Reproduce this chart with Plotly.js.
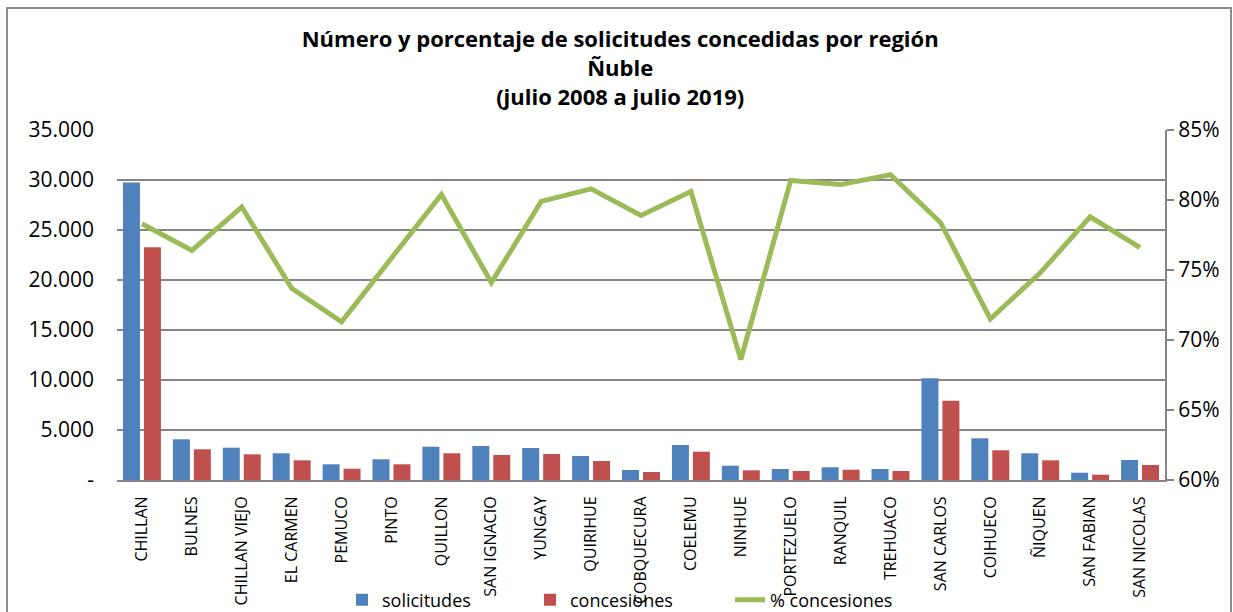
<!DOCTYPE html>
<html>
<head>
<meta charset="utf-8">
<script src="https://cdn.plot.ly/plotly-3.0.1.min.js"></script>
<style>html,body{margin:0;padding:0;background:#fff;}</style>
</head>
<body>
<div id="chart" style="width:1233px;height:612px;"></div>
<script>
const categories = ["CHILLAN","BULNES","CHILLAN VIEJO","EL CARMEN","PEMUCO","PINTO","QUILLON","SAN IGNACIO","YUNGAY","QUIRIHUE","COBQUECURA","COELEMU","NINHUE","PORTEZUELO","RANQUIL","TREHUACO","SAN CARLOS","COIHUECO","ÑIQUEN","SAN FABIAN","SAN NICOLAS"];
const solicitudes = [29750, 4070, 3230, 2670, 1570, 2070, 3330, 3400, 3200, 2400, 1000, 3500, 1430, 1100, 1270, 1100, 10170, 4170, 2670, 730, 2000];
const concesiones = [23270, 3070, 2570, 1970, 1130, 1570, 2670, 2500, 2600, 1900, 800, 2830, 970, 900, 1030, 900, 7930, 2970, 1970, 530, 1500];
const pctConcesiones = [0.783, 0.764, 0.795, 0.737, 0.713, 0.758, 0.804, 0.741, 0.799, 0.808, 0.789, 0.806, 0.686, 0.814, 0.811, 0.818, 0.784, 0.715, 0.748, 0.788, 0.766];
const leftTickVals = [0, 5000, 10000, 15000, 20000, 25000, 30000, 35000];
const leftTickText = ["-", "5.000", "10.000", "15.000", "20.000", "25.000", "30.000", "35.000"];
const titleText = "Número y porcentaje de solicitudes concedidas por región<br>Ñuble<br>(julio 2008 a julio 2019)";

const font = "Open Sans, sans-serif";
const traces = [
  {type: "bar", name: "solicitudes", x: categories, y: solicitudes, marker: {color: "#4f81bd"}, yaxis: "y", legend: "legend"},
  {type: "bar", name: "concesiones", x: categories, y: concesiones, marker: {color: "#c0504d"}, yaxis: "y", legend: "legend2"},
  {type: "scatter", mode: "lines", name: "% concesiones", x: categories, y: pctConcesiones, line: {color: "#9bbb59", width: 5}, yaxis: "y2", legend: "legend3"}
];

const L = 117, R = 1165, T = 130, B = 480, W = 1233, H = 612;
const px = v => (v - L) / (R - L);
const py = v => (B - v) / (B - T);
const legendBase = {orientation: "h", xanchor: "left", y: py(600), yanchor: "middle", bgcolor: "rgba(0,0,0,0)", font: {family: font, size: 18, color: "#000"}};

const layout = {
  width: W, height: H,
  margin: {l: L, r: W - R, t: T, b: H - B, pad: 0, autoexpand: false},
  paper_bgcolor: "#ffffff", plot_bgcolor: "rgba(0,0,0,0)",
  font: {family: font, color: "#000000"},
  title: {text: titleText, font: {family: font, size: 22, weight: 700, color: "#000"}, x: 0.503, xanchor: "center", y: 0.9225, yanchor: "top"},
  barmode: "group", bargap: 0.16, bargroupgap: 0.19,
  showlegend: true,
  legend: Object.assign({}, legendBase, {x: px(342)}),
  legend2: Object.assign({}, legendBase, {x: px(530)}),
  legend3: Object.assign({}, legendBase, {x: px(730)}),
  xaxis: {type: "category", tickangle: -90, tickfont: {family: font, size: 16, color: "#000"}, showline: true, linecolor: "#868686", linewidth: 2, showgrid: false, ticks: "", ticklabelstandoff: 8, automargin: false, layer: "below traces"},
  yaxis: {range: [0, 35000], tickvals: leftTickVals, ticktext: leftTickText, showgrid: true, gridcolor: "#868686", gridwidth: 2, zeroline: false, showline: false, ticks: "", tickfont: {family: font, size: 21, color: "#000"}, ticklabelstandoff: 22, automargin: false},
  yaxis2: {overlaying: "y", side: "right", range: [0.60, 0.85], dtick: 0.05, tick0: 0.6, tickformat: ".0%", showgrid: false, zeroline: false, showline: true, linecolor: "#868686", linewidth: 2, ticks: "outside", ticklen: 7, tickwidth: 2, tickcolor: "#868686", tickfont: {family: font, size: 21, color: "#000"}, automargin: false},
  shapes: [
    {type: "rect", xref: "paper", yref: "paper", x0: px(7), x1: px(1231), y0: py(8), y1: py(640), line: {color: "#8c8c8c", width: 2}, fillcolor: "rgba(0,0,0,0)", layer: "below"}
  ]
};

Plotly.newPlot("chart", traces, layout, {displayModeBar: false, staticPlot: true});
</script>
</body>
</html>
